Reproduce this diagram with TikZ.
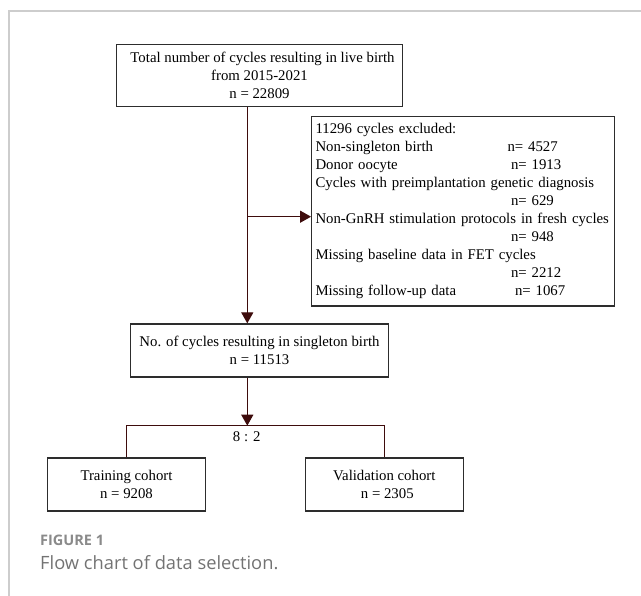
\documentclass[tikz,border=0pt]{standalone}
\usepackage{fontspec}
\setmainfont{Liberation Serif}
\newfontfamily\capfont{Open Sans}
\usetikzlibrary{arrows.meta}
\definecolor{connc}{RGB}{62,12,12}
\definecolor{boxc}{RGB}{45,45,45}
\definecolor{framec}{RGB}{205,205,205}
\definecolor{figc}{RGB}{138,138,138}
\definecolor{capc}{RGB}{115,115,115}
\tikzset{
  box/.style={draw=boxc, line width=1.3pt, fill=white, align=center, inner sep=2pt,
              font=\fontsize{14.8}{18}\selectfont},
  conn/.style={draw=connc, line width=1.3pt},
  tip/.style={-{Triangle[length=11pt,width=12pt]}},
  lbl/.style={font=\fontsize{14.8}{18}\selectfont, inner sep=0pt}
}
\begin{document}
\begin{tikzpicture}[x=1pt,y=-1pt]
\useasboundingbox (0,0) rectangle (641,596);
% open frame
\draw[framec, line width=1.4pt] (9,596) -- (9,11) -- (641,11);

% boxes
\node[box, minimum width=286.4pt, minimum height=62.4pt] (top) at (259.5,75.5)
  {\hspace*{6pt}Total number of cycles resulting in live birth\\from 2015-2021\\n = 22809};
\node[box, minimum width=302.6pt, minimum height=189.3pt, text width=295pt,
      inner xsep=3.8pt, align=left] (ex) at (463,211.35)
  {11296 cycles excluded:\\
   \makebox[192pt][l]{Non-singleton birth}n= 4527\\
   \makebox[195.5pt][l]{Donor oocyte}n= 1913\\
   \mbox{Cycles with preimplantation genetic diagnosis}\\
   \makebox[195.5pt][l]{}n= 629\\
   \mbox{Non-GnRH stimulation protocols in fresh cycles}\\
   \makebox[195.5pt][l]{}n= 948\\
   Missing baseline data in FET cycles\\
   \makebox[195.5pt][l]{}n= 2212\\
   \makebox[199.5pt][l]{Missing follow-up data}n= 1067};
\node[box, minimum width=257.6pt, minimum height=53pt] (single) at (259.5,350.5)
  {No. of cycles resulting in singleton birth\\n = 11513};
\node[box, minimum width=157.6pt, minimum height=53pt] (train) at (126.5,484.5)
  {Training cohort\\n = 9208};
\node[box, minimum width=157.8pt, minimum height=53pt] (val) at (384.3,484.5)
  {Validation cohort\\\hspace*{6pt}n = 2305};

% helper coordinates
\coordinate (sp) at (247.3,0);
\coordinate (br) at (247.3,216.7);
\coordinate (split) at (0,425.7);

% connectors
\draw[conn, tip] (top.south -| sp) -- (single.north -| sp);
\draw[conn, tip] (br) -- (br -| ex.west);
\draw[conn, tip] (single.south -| sp) -- (split -| sp);
\draw[conn] (train.north) -- (train.north |- split) -- (val.north |- split) -- (val.north);

\node[lbl] (ratio) at (246.7,437) {8 : 2};

% caption
\node[anchor=base west, inner sep=0pt, text=figc, font=\capfont\bfseries\fontsize{14.5}{16}\selectfont]
  (fig) at (40,545.5) {FIGURE 1};
\node[anchor=base west, inner sep=0pt, text=capc, font=\capfont\fontsize{18.3}{20}\selectfont]
  (cap) at (40,569.5) {Flow chart of data selection.};
\end{tikzpicture}
\end{document}
